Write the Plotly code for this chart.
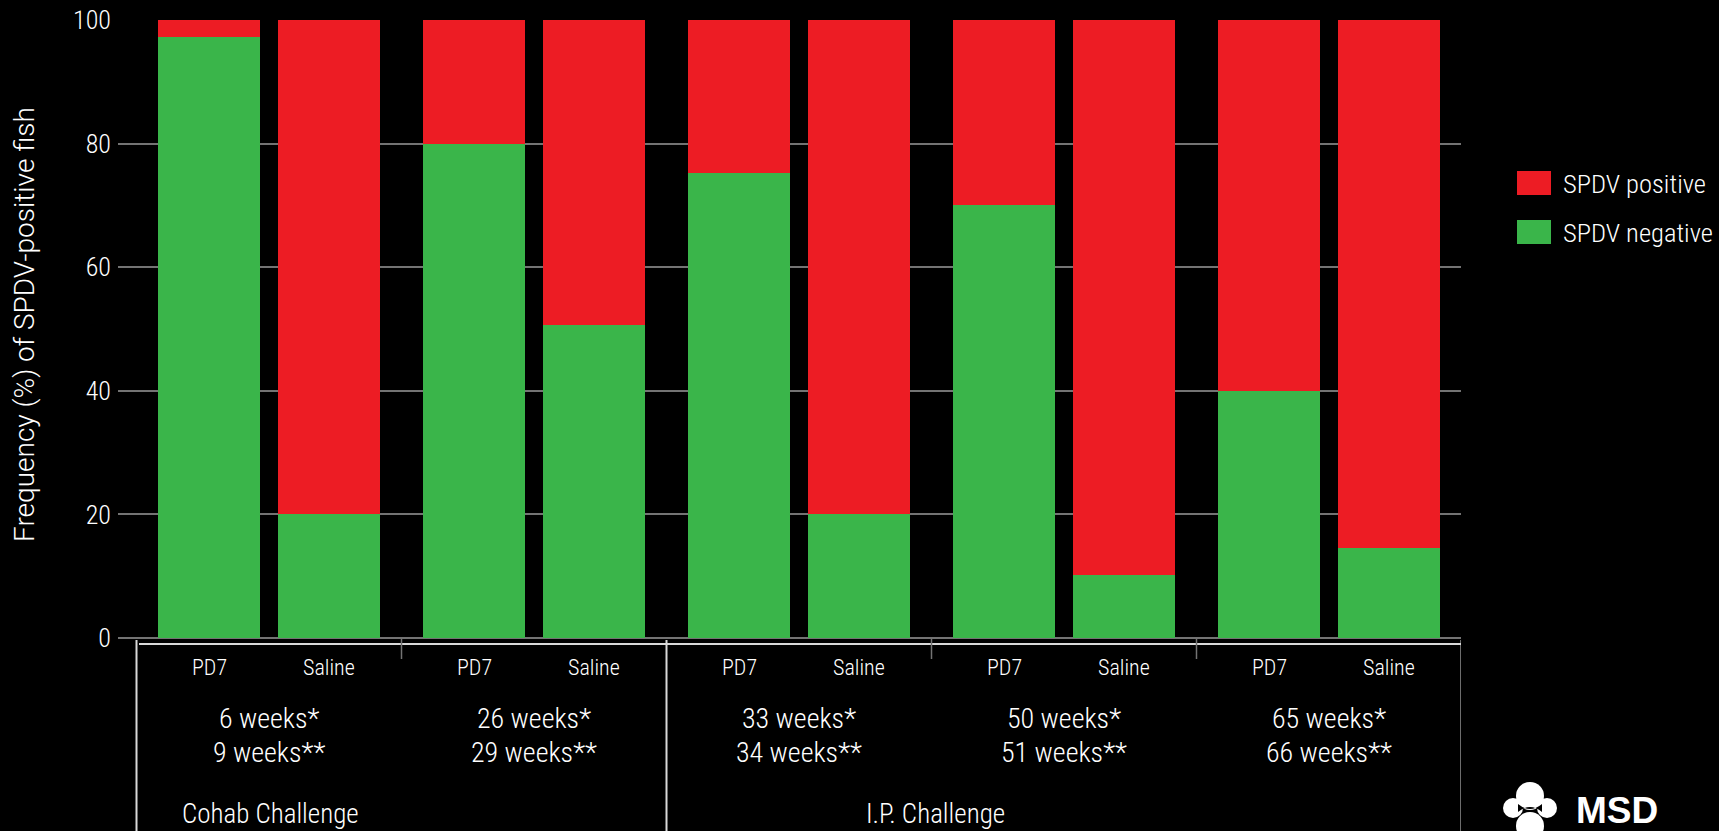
import plotly.graph_objects as go

# ---------------- data ----------------
timepoints_first = ["6 weeks*", "26 weeks*", "33 weeks*", "50 weeks*", "65 weeks*"]
timepoints_second = ["9 weeks**", "29 weeks**", "34 weeks**", "51 weeks**", "66 weeks**"]
treatments = ["PD7", "Saline"]
challenges = ["Cohab Challenge", "I.P. Challenge"]
challenge_group_counts = [2, 3]
spdv_negative = [97.2, 20.0, 80.0, 50.6, 75.2, 20.0, 70.0, 10.2, 40.0, 14.6]
spdv_positive = [2.8, 80.0, 20.0, 49.4, 24.8, 80.0, 30.0, 89.8, 60.0, 85.4]
series_names = ["SPDV positive", "SPDV negative"]
y_ticks = [0, 20, 40, 60, 80, 100]
y_title = "Frequency (%) of SPDV-positive fish"

# ---------------- style ----------------
W, H = 1719, 831
ML, MR, MT, MB = 118, 258, 20, 193
PW, PH = W - ML - MR, H - MT - MB
GREEN, RED = "#3AB54A", "#ED1C24"
GRID = "#737373"
LINE = "#d9d9d9"
FONT = "'Roboto Condensed', Roboto, sans-serif"
FONT_WIDE = "Roboto, sans-serif"
WT = 300
PX_PER_UNIT = 120.0
STEP = 265.0 / PX_PER_UNIT        # spacing between timepoint groups
BAR_W = 102.0 / PX_PER_UNIT

n_groups = len(timepoints_first)
x_pos = [g * STEP + t for g in range(n_groups) for t in range(len(treatments))]
x_left = (1 - STEP) / 2 - 18.5 / PX_PER_UNIT
x_range = [x_left, x_left + PW / PX_PER_UNIT]


def py(p):
    """pixel row -> paper y"""
    return (H - MB - p) / PH


def pxx(p):
    """pixel column -> paper x"""
    return (p - ML) / PW


def tfont(size, family=FONT):
    return dict(size=size, color="white", family=family, weight=WT)


fig = go.Figure()
fig.add_trace(go.Bar(x=x_pos, y=spdv_negative, name=series_names[1], width=BAR_W,
                     marker=dict(color=GREEN, line=dict(width=0)), showlegend=False))
fig.add_trace(go.Bar(x=x_pos, y=spdv_positive, name=series_names[0], width=BAR_W,
                     marker=dict(color=RED, line=dict(width=0)), showlegend=False))

shapes = []
annotations = []

# table: top line and vertical dividers
bottom = py(H + 2)
shapes.append(dict(type="line", xref="paper", yref="paper", x0=pxx(139), x1=1.0,
                   y0=py(644), y1=py(644), line=dict(color=LINE, width=2)))
boundaries = [(g * STEP + (1 + STEP) / 2) for g in range(-1, n_groups)]
major = {-1, n_groups - 1}
acc = -1
for c in challenge_group_counts:
    acc += c
    major.add(acc)
for g, bx in zip(range(-1, n_groups), boundaries):
    if g in major:
        shapes.append(dict(type="line", xref="x", yref="paper", x0=bx, x1=bx,
                           y0=py(640), y1=bottom, line=dict(color=LINE, width=2)))
    else:
        shapes.append(dict(type="line", xref="x", yref="paper", x0=bx, x1=bx,
                           y0=py(639), y1=py(659), line=dict(color=GRID, width=1.5)))

# treatment labels
for i, xp in enumerate(x_pos):
    annotations.append(dict(x=xp, y=py(667), xref="x", yref="paper", showarrow=False,
                            text=treatments[i % 2], xanchor="center", yanchor="middle",
                            font=tfont(22)))
# timepoint labels
for g in range(n_groups):
    cx = g * STEP + 0.5
    annotations.append(dict(x=cx, y=py(718), xref="x", yref="paper", showarrow=False,
                            text=timepoints_first[g], xanchor="center", yanchor="middle",
                            font=tfont(28)))
    annotations.append(dict(x=cx, y=py(752), xref="x", yref="paper", showarrow=False,
                            text=timepoints_second[g], xanchor="center", yanchor="middle",
                            font=tfont(28)))
# challenge labels
annotations.append(dict(x=pxx(180), y=py(814), xref="paper", yref="paper", showarrow=False,
                        text=challenges[0], xanchor="left", yanchor="middle", font=tfont(27)))
annotations.append(dict(x=pxx(864), y=py(814), xref="paper", yref="paper", showarrow=False,
                        text=challenges[1], xanchor="left", yanchor="middle", font=tfont(27)))

# y-axis title
annotations.append(dict(x=pxx(24), y=py(325), xref="paper", yref="paper", showarrow=False,
                        text=y_title, textangle=-90, xanchor="center", yanchor="middle",
                        font=tfont(28, FONT_WIDE)))

# custom legend
for k, (name, col) in enumerate(zip(series_names, [RED, GREEN])):
    cy = 183 + 49 * k
    shapes.append(dict(type="rect", xref="paper", yref="paper",
                       x0=pxx(1517), x1=pxx(1551), y0=py(cy - 12), y1=py(cy + 12),
                       fillcolor=col, line=dict(width=0)))
    annotations.append(dict(x=pxx(1561), y=py(cy), xref="paper", yref="paper", showarrow=False,
                            text=name, xanchor="left", yanchor="middle", font=tfont(26.5)))


# MSD logo (approximation)
def circle(cx, cy, r, color):
    return dict(type="circle", xref="paper", yref="paper",
                x0=pxx(cx - r), x1=pxx(cx + r), y0=py(cy + r), y1=py(cy - r),
                fillcolor=color, line=dict(width=0))


shapes.append(circle(1513, 808, 10, "white"))
shapes.append(circle(1547, 808, 10, "white"))
shapes.append(circle(1530, 796, 14, "white"))
shapes.append(circle(1530, 826, 14, "white"))
shapes.append(dict(type="path", xref="paper", yref="paper",
                   path=(f"M {pxx(1518)},{py(804)} Q {pxx(1530)},{py(814)} {pxx(1542)},{py(804)} "
                         f"L {pxx(1542)},{py(812)} Q {pxx(1530)},{py(802)} {pxx(1518)},{py(812)} Z"),
                   fillcolor="black", line=dict(width=0)))
annotations.append(dict(x=pxx(1574), y=py(810), xref="paper", yref="paper", showarrow=False,
                        text="<b>MSD</b>", xanchor="left", yanchor="middle",
                        font=dict(size=37, color="white", family="'Liberation Sans', Arial, sans-serif")))

fig.update_layout(
    width=W, height=H,
    margin=dict(l=ML, r=MR, t=MT, b=MB, autoexpand=False),
    paper_bgcolor="black", plot_bgcolor="black",
    barmode="stack", bargap=0,
    showlegend=False,
    font=dict(family=FONT, color="white", size=27, weight=WT),
    shapes=shapes, annotations=annotations,
)
fig.update_xaxes(range=x_range, showgrid=False, zeroline=False, showticklabels=False,
                 ticks="", showline=False, fixedrange=True)
fig.update_yaxes(range=[0, 100], tickvals=y_ticks, showgrid=True, gridcolor=GRID, gridwidth=1.5,
                 zeroline=True, zerolinecolor=GRID, zerolinewidth=1.5, ticks="",
                 tickfont=tfont(26), ticklabelstandoff=6,
                 showline=False, fixedrange=True)

fig.write_html("out.html")
